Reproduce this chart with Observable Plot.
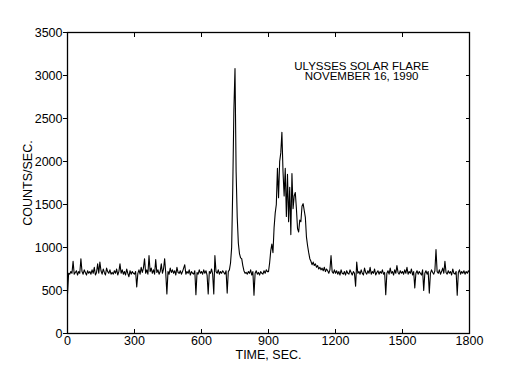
<!DOCTYPE html>
<html>
<head>
<meta charset="utf-8">
<script src="https://cdn.jsdelivr.net/npm/d3@7"></script>
<script src="https://cdn.jsdelivr.net/npm/@observablehq/plot@0.6"></script>
<style>
  html, body { margin: 0; padding: 0; background: #fff; }
</style>
</head>
<body>
<div id="chart"></div>
<script>
// Sampling interval of the series (seconds)
const step = 5;
// Counts per second, one value every 5 s from t = 0 to t = 1800
const counts = [
  460, 700, 690, 720, 700, 840, 690, 710, 730, 680, 720, 700, 870, 720, 690, 740, 710, 680, 730, 700,
  720, 690, 740, 700, 770, 680, 710, 810, 700, 830, 730, 690, 750, 710, 680, 760, 720, 700, 740, 690,
  710, 690, 730, 700, 750, 680, 720, 810, 700, 740, 690, 720, 680, 750, 700, 660, 730, 690, 720, 700,
  690, 720, 540, 700, 740, 690, 770, 710, 760, 870, 700, 740, 690, 905, 720, 760, 700, 740, 690, 860,
  710, 740, 690, 720, 810, 700, 750, 870, 700, 460, 720, 690, 760, 710, 740, 700, 730, 680, 770, 710,
  700, 730, 690, 720, 760, 800, 690, 720, 700, 740, 680, 720, 700, 690, 730, 450, 710, 690, 740, 700,
  720, 690, 740, 700, 730, 680, 460, 720, 700, 750, 690, 460, 905, 720, 700, 740, 690, 720, 700, 730,
  710, 690, 730, 470, 720, 740, 820, 1000, 1700, 2600, 3080, 1880, 1350, 1050, 930, 880, 870, 790, 730, 700,
  710, 690, 720, 700, 740, 680, 720, 445, 700, 730, 690, 710, 680, 720, 700, 690, 730, 700, 740, 720,
  720, 820, 960, 1040, 940, 1230, 1400, 1500, 1920, 1580, 2000, 2100, 2340, 1880, 1600, 1920, 1360, 1850, 1300, 1700,
  1150, 1860, 1450, 1600, 1640, 1450, 1220, 1180, 1320, 1300, 1480, 1510, 1430, 1350, 1120, 1020, 940, 870, 840, 800,
  830, 790, 810, 770, 790, 750, 770, 740, 760, 730, 770, 720, 750, 730, 700, 740, 905, 720, 700, 740,
  700, 730, 690, 720, 680, 740, 700, 690, 720, 680, 730, 700, 690, 740, 710, 680, 720, 700, 550, 830,
  700, 720, 690, 740, 700, 680, 760, 710, 690, 730, 700, 770, 690, 720, 700, 750, 680, 710, 730, 690,
  720, 700, 740, 690, 710, 450, 700, 730, 690, 760, 700, 720, 680, 740, 700, 790, 710, 690, 730, 700,
  720, 690, 740, 700, 770, 690, 720, 700, 750, 680, 720, 530, 700, 730, 690, 720, 700, 680, 740, 500,
  700, 730, 690, 720, 470, 700, 740, 710, 690, 730, 975, 720, 700, 740, 690, 720, 760, 700, 840, 710,
  690, 730, 700, 720, 680, 750, 700, 690, 720, 445, 710, 740, 690, 720, 700, 730, 690, 720, 700, 730,
  710
];
const xTicks = [0, 300, 600, 900, 1200, 1500, 1800];
const yTicks = [0, 500, 1000, 1500, 2000, 2500, 3000, 3500];
const xLabel = "TIME, SEC.";
const yLabel = "COUNTS/SEC.";
const titleLines = ["ULYSSES SOLAR FLARE", "NOVEMBER 16, 1990"];
const titleAt = {t: 1317, c: 3047};

const times = counts.map((_, i) => i * step);
const data = counts.map((c, i) => ({t: times[i], c}));
const plain = d => String(d);

const chart = Plot.plot({
  width: 532,
  height: 385,
  marginLeft: 67,
  marginRight: 63,
  marginTop: 32,
  marginBottom: 52,
  style: {fontFamily: "'Liberation Sans', Arial, sans-serif", fontSize: "12px", background: "#fff", color: "#000"},
  x: {domain: [0, 1800], label: null},
  y: {domain: [0, 3500], label: null},
  marks: [
    Plot.axisY(yTicks, {anchor: "left", tickSize: 4, tickPadding: 1, fontSize: 12.5, tickFormat: plain,
      label: yLabel, labelAnchor: "center", labelOffset: 44, labelArrow: "none"}),
    Plot.axisY(yTicks, {anchor: "right", tickSize: -4, tickFormat: () => "", label: null}),
    Plot.axisX(xTicks, {anchor: "bottom", tickSize: -4, tickPadding: 7, fontSize: 12.5, tickFormat: plain,
      label: xLabel, labelAnchor: "center", labelOffset: 25, labelArrow: "none"}),
    Plot.axisX(xTicks, {anchor: "top", tickSize: -4, tickFormat: () => "", label: null}),
    Plot.line(data, {x: "t", y: "c", stroke: "#000", strokeWidth: 1.1}),
    Plot.text([titleLines.join("\n")], {x: () => titleAt.t, y: () => titleAt.c,
      fontSize: 11.5, lineHeight: 0.92, textAnchor: "middle", fill: "#000"}),
    Plot.frame({stroke: "#000", strokeWidth: 1.3})
  ]
});
document.getElementById("chart").appendChild(chart);
</script>
</body>
</html>
